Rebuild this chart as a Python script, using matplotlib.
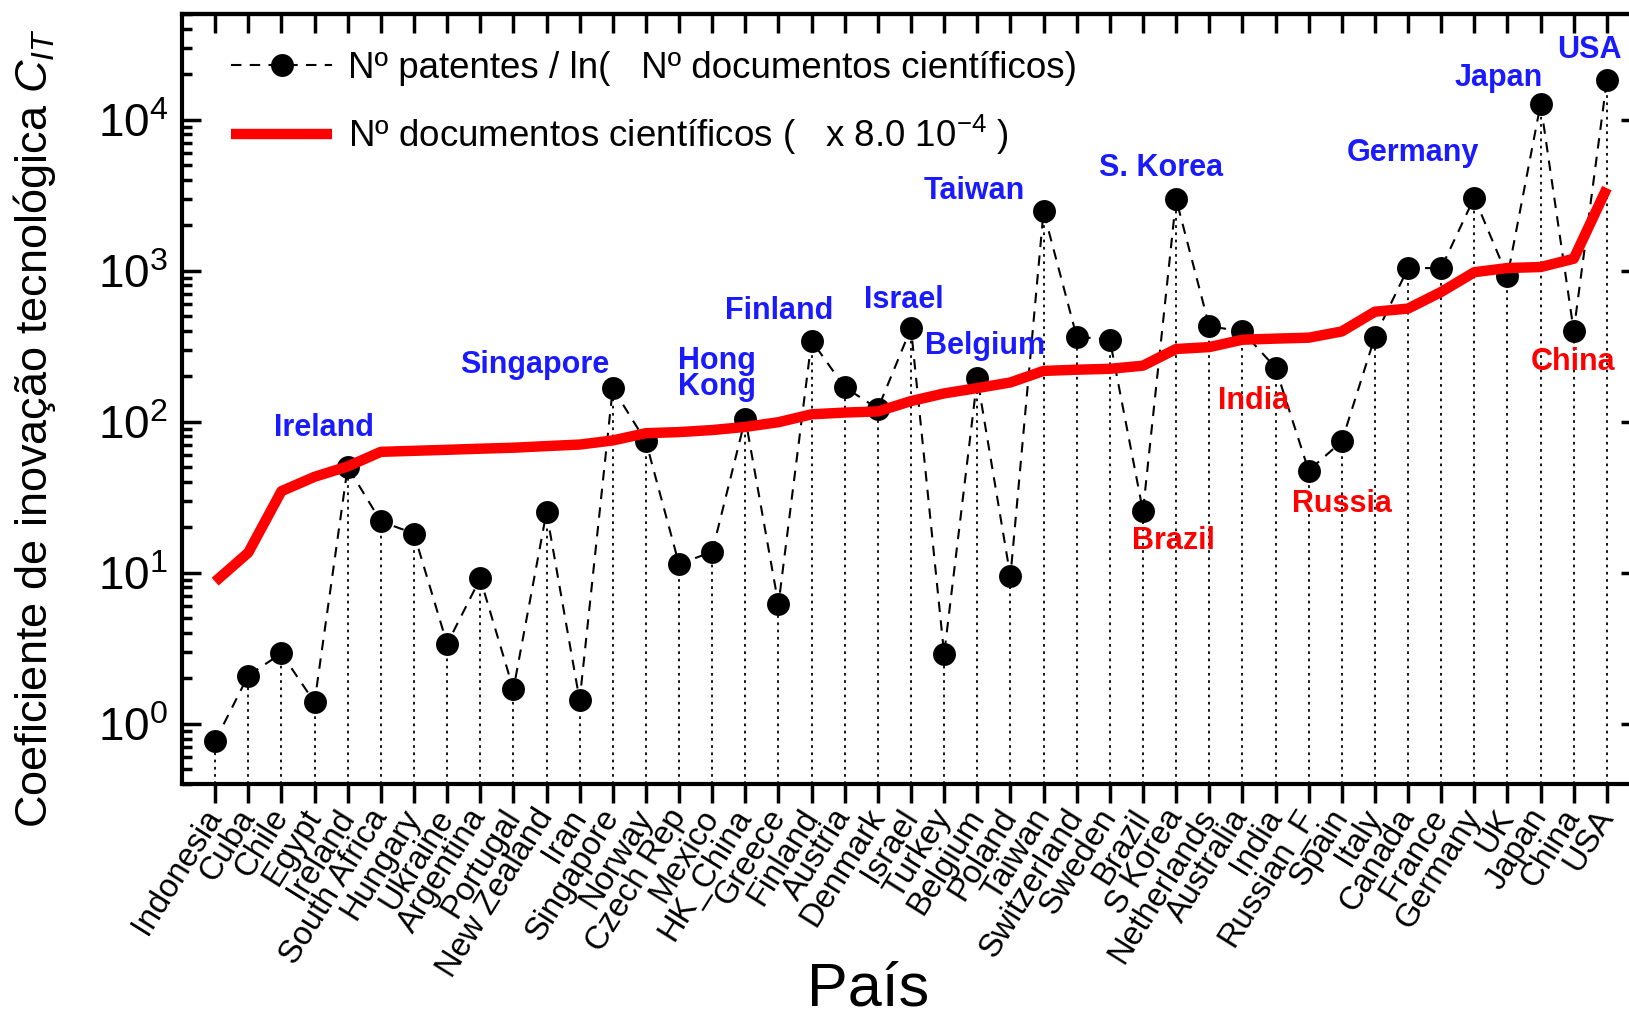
import matplotlib
matplotlib.use('Agg')
import matplotlib.pyplot as plt
import numpy as np
from matplotlib.lines import Line2D
from matplotlib.ticker import LogLocator, NullFormatter, LogFormatterSciNotation

plt.rcParams['font.family'] = ['Liberation Sans', 'DejaVu Sans']
plt.rcParams['mathtext.fontset'] = 'custom'
plt.rcParams['mathtext.rm'] = 'Liberation Sans'
plt.rcParams['mathtext.it'] = 'Liberation Sans:italic'
plt.rcParams['mathtext.bf'] = 'Liberation Sans:bold'

# ---------------- data ----------------
countries = ["Indonesia", "Cuba", "Chile", "Egypt", "Ireland", "South Africa", "Hungary",
             "Ukraine", "Argentina", "Portugal", "New Zealand", "Iran", "Singapore", "Norway",
             "Czech Rep", "Mexico", "HK_China", "Greece", "Finland", "Austria", "Denmark",
             "Israel", "Turkey", "Belgium", "Poland", "Taiwan", "Switzerland", "Sweden",
             "Brazil", "S Korea", "Netherlands", "Australia", "India", "Russian_F", "Spain",
             "Italy", "Canada", "France", "Germany", "UK", "Japan", "China", "USA"]

# Nº patentes / ln(Nº documentos científicos)
patent_ratio = [0.77, 2.09, 2.93, 1.39, 50.2, 21.9, 18.2, 3.38, 9.17, 1.69, 25.2, 1.43,
                167, 74, 11.4, 13.8, 105, 6.17, 344, 169, 122, 416, 2.89, 194, 9.46,
                2465, 366, 349, 25.6, 2980, 429, 396, 228, 47.5, 74, 366, 1040, 1040,
                3050, 916, 12680, 399, 18250]

# Nº documentos científicos (x 8.0e-4)
docs_scaled = [8.74, 13.6, 34.7, 43.2, 50.6, 63.2, 64.2, 65.2, 66.3, 67.3, 69.0, 70.6,
               75.2, 84.0, 85.4, 88.1, 92.4, 99.3, 112, 115, 117, 137, 154, 167, 182,
               217, 221, 224, 235, 303, 312, 349, 355, 360, 396, 535, 561, 723, 977,
               1041, 1057, 1199, 3520]

# annotation labels: text, x position (category units), y value
blue_text = ["Ireland", "Singapore", "Hong\nKong", "Finland", "Israel", "Belgium",
             "Taiwan", "S. Korea", "Germany", "Japan", "USA"]
blue_x = [4.29, 10.66, 16.14, 18.02, 21.78, 24.23, 23.92, 29.56, 37.14, 39.75, 42.47]
blue_y = [91, 239, 207, 544, 637, 318, 3356, 4753, 6026, 18840, 28850]

red_text = ["Brazil", "India", "Russia", "China"]
red_x = [29.93, 32.35, 35.01, 41.97]
red_y = [16.2, 137, 28.6, 250]

y_min, y_max = 0.4, 5e4

# ---------------- figure ----------------
W, H = 1629, 1017
fig = plt.figure(figsize=(W / 100, H / 100), dpi=100)
left_px, right_px, top_px, bottom_px = 182, 1640, 14, 784
ax = fig.add_axes([left_px / W, 1 - bottom_px / H, (right_px - left_px) / W,
                   (bottom_px - top_px) / H])

x = np.arange(1, len(countries) + 1)

ax.vlines(x, y_min, patent_ratio, colors='k', linestyles=(0, (1.5, 2.5)), lw=1.3, zorder=1)
ax.plot(x, patent_ratio, color='k', ls=(0, (5, 4)), lw=1.5, marker='o', ms=16.5,
        markeredgewidth=0, zorder=3)
ax.plot(x, docs_scaled, color='#ff0000', lw=7.5, solid_capstyle='butt', zorder=4)

ax.set_yscale('log')
ax.set_ylim(y_min, y_max)
ax.set_xlim(0, 44)

# ticks
ax.set_xticks(x)
ax.set_xticklabels(countries, rotation=58, ha='right', va='center', rotation_mode='anchor',
                   fontsize=23.5)
ax.tick_params(axis='x', which='major', direction='out', length=14, width=2.5, pad=6,
               top=False, bottom=True)
ax.yaxis.set_major_locator(LogLocator(base=10, numticks=20))
ax.yaxis.set_minor_locator(LogLocator(base=10, subs=np.arange(2, 10), numticks=20))
ax.yaxis.set_minor_formatter(NullFormatter())
ax.yaxis.set_major_formatter(LogFormatterSciNotation())
ax.tick_params(axis='y', which='major', direction='in', length=14, width=2.5,
               left=True, right=True, labelsize=33, pad=10)
ax.tick_params(axis='y', which='minor', direction='in', length=7, width=2.5,
               left=True, right=True)

sec = ax.secondary_xaxis('top')
sec.set_xticks(x)
sec.tick_params(axis='x', direction='in', length=14, width=2.5, labeltop=False)
sec.spines['top'].set_linewidth(3)

for s in ax.spines.values():
    s.set_linewidth(3)

# labels
ax.set_ylabel('Coeficiente de inovação tecnológica $C_{IT}$', fontsize=32.5)
ax.yaxis.set_label_coords(-0.085, 0.462)
fig.text(868 / W, 1 - 990 / H, 'País', fontsize=44, ha='center', va='center')

# annotations
for t, xx, yy in zip(blue_text, blue_x, blue_y):
    ax.text(xx, yy, t, color='#1a1aff', fontsize=22, fontweight='bold', ha='center',
            va='center', linespacing=0.8, zorder=5)
for t, xx, yy in zip(red_text, red_x, red_y):
    ax.text(xx, yy, t, color='#ff0000', fontsize=22, fontweight='bold', ha='center',
            va='center', zorder=5)

# legend
h1 = Line2D([], [], color='k', ls=(0, (5, 4)), lw=1.5, marker='o', ms=16.5, markeredgewidth=0)
h2 = Line2D([], [], color='#ff0000', lw=7.5, solid_capstyle='butt')
ax.legend([h1, h2],
          ['Nº patentes / ln(   Nº documentos científicos)',
           'Nº documentos científicos (   x 8.0 10$^{-4}$ )'],
          loc='upper left', bbox_to_anchor=(0.0336, 0.952), frameon=False,
          fontsize=26.5, handlelength=2.75, handletextpad=0.44, borderpad=0,
          borderaxespad=0, labelspacing=0.72)

fig.savefig('out.png', dpi=100)
